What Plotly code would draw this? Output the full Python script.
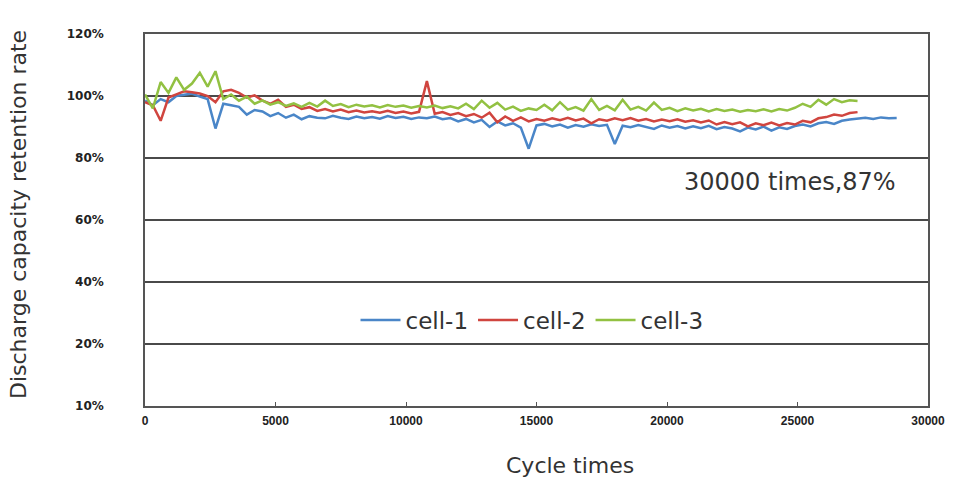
import plotly.graph_objects as go

cycle_step = 300
cell1 = [98.5, 97.0, 99.0, 98.0, 100.0, 100.5, 100.8, 99.8, 99.0, 89.5,
         97.5, 97.0, 96.5, 94.0, 95.5, 95.0, 93.5, 94.5, 93.0, 94.0,
         92.5, 93.5, 93.0, 92.8, 93.6, 93.0, 92.6, 93.4, 92.8, 93.2,
         92.7, 93.5, 92.9, 93.3, 92.6, 93.1, 92.8, 93.4, 92.5, 92.9,
         91.8, 92.6, 91.5, 92.3, 90.0, 91.8, 90.5, 91.2, 89.8, 83.0,
         90.5, 91.0, 90.2, 90.8, 89.8, 90.6, 90.1, 90.9, 90.3, 90.7,
         84.5, 90.4, 89.9, 90.6, 90.0, 89.4, 90.5, 89.8, 90.3, 89.5,
         90.2, 89.6, 90.4, 89.3, 90.0, 89.5, 88.6, 89.8, 89.2, 90.1,
         88.8, 89.9, 89.4, 90.3, 90.8, 90.2, 91.2, 91.6, 91.0, 92.0,
         92.4, 92.8, 93.0, 92.6, 93.1, 92.8, 92.9]
cell2 = [98.0, 97.0, 92.0, 99.5, 100.5, 101.5, 101.2, 100.8, 100.0, 98.0,
         101.5, 102.0, 101.0, 99.5, 100.2, 98.5, 97.5, 98.8, 96.5, 97.2,
         95.8, 96.4, 95.2, 95.8, 95.0, 95.6, 94.8, 95.3, 94.7, 95.1,
         94.6, 95.2, 94.5, 95.0, 94.4, 94.9, 104.8, 94.3, 94.8, 93.9,
         94.5, 93.5, 94.2, 93.0, 94.6, 91.5, 93.4, 92.0, 93.1, 91.8,
         92.6, 92.0, 92.8, 92.2, 93.0, 92.1, 92.7, 91.2, 92.5, 92.0,
         92.8, 92.2, 92.9, 92.0, 92.6, 91.8, 92.4, 91.9, 92.5, 91.7,
         92.2, 91.5, 92.1, 90.8, 91.6, 90.9, 91.5, 90.2, 91.2, 90.6,
         91.4, 90.5, 91.3, 90.8, 92.0, 91.5, 92.8, 93.2, 94.0, 93.6,
         94.5, 94.8]
cell3 = [100.5, 96.0, 104.5, 101.0, 106.0, 102.0, 104.0, 107.5, 103.0, 108.0,
         99.0, 100.5, 98.5, 99.8, 97.5, 98.6, 97.2, 98.0, 96.8, 97.6,
         96.5, 97.8, 96.6, 98.5, 96.8, 97.4, 96.4, 97.2, 96.6, 97.0,
         96.3, 97.1, 96.5, 96.9, 96.2, 96.8, 96.3, 96.9, 96.1, 96.7,
         96.0, 97.5, 95.8, 98.5, 96.2, 97.8, 95.6, 96.6, 95.2, 96.0,
         95.5, 97.2, 95.4, 98.0, 95.6, 96.4, 95.3, 99.0, 95.5, 96.8,
         95.4, 98.8, 95.6, 96.5, 95.3, 97.9, 95.5, 96.2, 95.1, 96.0,
         95.3, 95.9, 95.0, 95.8, 95.2, 95.6, 94.9, 95.5, 95.1, 95.7,
         95.0, 95.8, 95.3, 96.2, 97.5, 96.5, 98.8, 97.2, 99.0, 98.0,
         98.6, 98.4]

series_names = ["cell-1", "cell-2", "cell-3"]
series_values = [cell1, cell2, cell3]
series_colors = ["#4a86c8", "#d0453f", "#92c142"]

y_tick_vals = [0, 20, 40, 60, 80, 100, 120]
y_tick_text = ["10%", "20%", "40%", "60%", "80%", "100%", "120%"]
x_tick_vals = [0, 5000, 10000, 15000, 20000, 25000, 30000]
x_tick_text = ["0", "5000", "10000", "15000", "20000", "25000", "30000"]

fig = go.Figure()
for name, vals, col in zip(series_names, series_values, series_colors):
    xs = [i * cycle_step for i in range(len(vals))]
    fig.add_trace(go.Scatter(x=xs, y=vals, mode="lines", name=name,
                             line=dict(color=col, width=2.5)))

dv = "DejaVu Sans, sans-serif"
lib = "Liberation Sans, Arial, sans-serif"
PL, PR, PT, PB = 145, 928, 34, 406
pw, ph = PR - PL, PB - PT

fig.update_layout(
    width=968, height=479,
    margin=dict(l=PL, r=968 - PR, t=PT, b=479 - PB),
    paper_bgcolor="white", plot_bgcolor="white",
    font=dict(family=dv, color="#333"),
    showlegend=True,
    legend=dict(orientation="h", x=(532 - PL) / pw, xanchor="center",
                y=(PB - 320) / ph, yanchor="middle",
                bgcolor="rgba(0,0,0,0)", font=dict(family=dv, size=23, color="#333"),
                itemwidth=40, tracegroupgap=0),
    xaxis=dict(range=[0, 30000], tickvals=x_tick_vals, ticktext=x_tick_text,
               showgrid=False, zeroline=False, showline=True, mirror=True,
               linecolor="#555", linewidth=1.5, ticks="inside", ticklen=4,
               tickcolor="#555",
               tickfont=dict(family=lib, size=12, color="#222", weight="bold"),
               ticklabelstandoff=3),
    yaxis=dict(range=[0, 120], tickvals=y_tick_vals, ticktext=y_tick_text,
               showgrid=True, gridcolor="#4a4a4a", gridwidth=1.5, zeroline=False,
               showline=True, mirror=True, linecolor="#555", linewidth=1.5,
               ticks="", tickfont=dict(family=dv, size=12, color="#222", weight="bold"),
               ticklabelstandoff=37),
    annotations=[
        dict(text="30000 times,87%", x=(790 - PL) / pw, y=(PB - 182) / ph,
             xref="paper", yref="paper",
             xanchor="center", yanchor="middle", showarrow=False,
             font=dict(family=dv, size=24, color="#333")),
        dict(text="Cycle times", x=(570 - PL) / pw, y=(PB - 465) / ph,
             xref="paper", yref="paper",
             xanchor="center", yanchor="middle", showarrow=False,
             font=dict(family=dv, size=22, color="#333")),
        dict(text="Discharge capacity retention rate", x=(18 - PL) / pw,
             y=(PB - 215) / ph,
             xref="paper", yref="paper", xanchor="center", yanchor="middle",
             textangle=-90, showarrow=False, font=dict(family=dv, size=22, color="#333")),
    ],
)

fig.write_html("out.html")
